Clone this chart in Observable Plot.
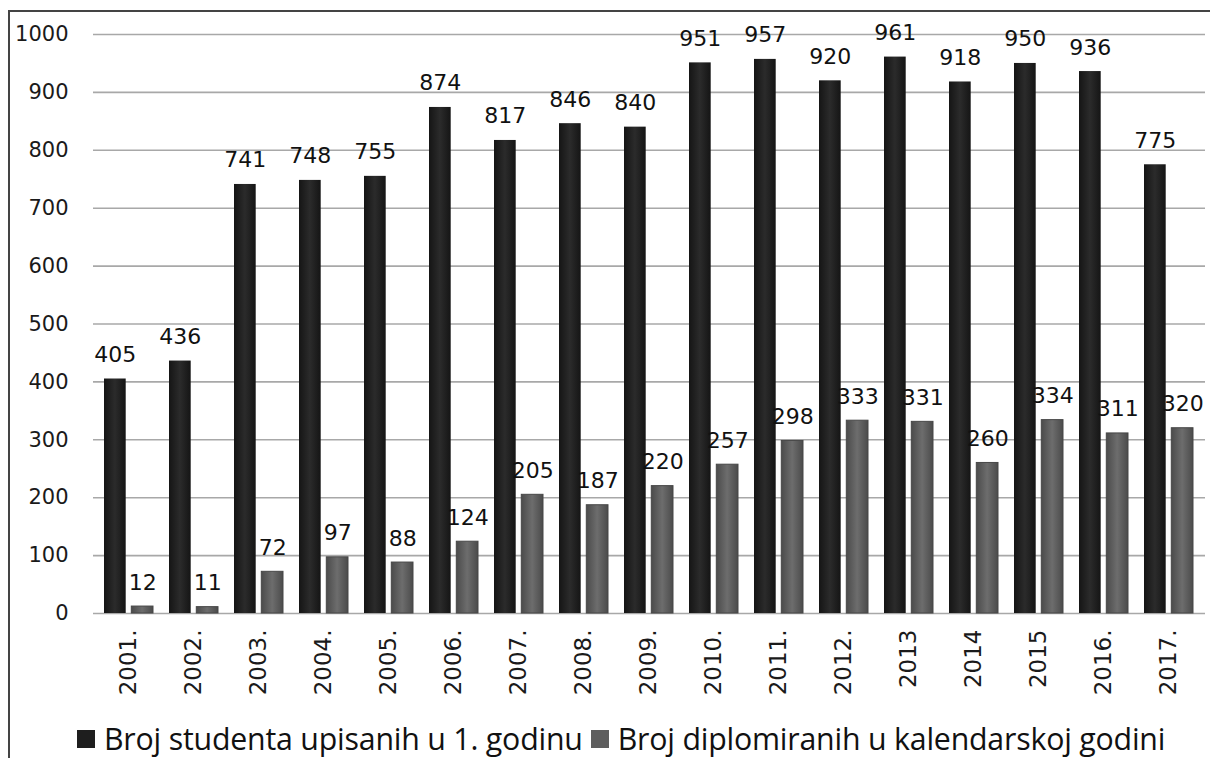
<!DOCTYPE html>
<html><head><meta charset="utf-8">
<script src="https://cdn.jsdelivr.net/npm/d3@7"></script>
<script src="https://cdn.jsdelivr.net/npm/@observablehq/plot@0.6"></script>
<style>
body{margin:0;background:#fff;}
#wrap{position:relative;width:1210px;height:758px;overflow:hidden;background:#fff;}
#frame{position:absolute;left:8px;top:10px;width:1300px;height:800px;border-left:2px solid #444;border-top:2px solid #444;}
#chart{position:absolute;left:0;top:0;}
#legend{position:absolute;left:77px;top:722px;display:flex;align-items:center;font-family:"Open Sans";font-size:30.3px;line-height:33px;color:#111;white-space:nowrap;letter-spacing:-0.2px;}
.item{display:flex;align-items:center;margin-right:8px;}
.sw{width:18px;height:18px;display:inline-block;margin-right:9px}
</style></head>
<body>
<div id="wrap"><div id="frame"></div><div id="chart"></div><div id="legend"></div></div>
<script>
const years = ["2001.","2002.","2003.","2004.","2005.","2006.","2007.","2008.","2009.","2010.","2011.","2012.","2013","2014","2015","2016.","2017."];
const enrolled = [405,436,741,748,755,874,817,846,840,951,957,920,961,918,950,936,775];
const graduated = [12,11,72,97,88,124,205,187,220,257,298,333,331,260,334,311,320];
const seriesNames = ["Broj studenta upisanih u 1. godinu","Broj diplomiranih u kalendarskoj godini"];
const yTicks = [0,100,200,300,400,500,600,700,800,900,1000];

const rowsA = years.map((y,i)=>({year:y, value:enrolled[i], series:seriesNames[0]}));
const rowsB = years.map((y,i)=>({year:y, value:graduated[i], series:seriesNames[1]}));

const chart = Plot.plot({
  width:1210, height:700,
  marginLeft:93, marginRight:5, marginTop:34, marginBottom:87,
  style:{fontFamily:"'DejaVu Sans'", fontSize:"20px", color:"#1a1a1a", background:"transparent"},
  x:{domain:years, paddingInner:0.24, paddingOuter:0.12, label:null},
  y:{domain:[0,1000], label:null},
  marks:[
    Plot.ruleY(yTicks, {stroke:"#a8a8a8", strokeWidth:1.6}),
    Plot.barY(rowsA, {x:"year", y:"value", fill:"url(#gDark)", insetRight:27.3}),
    Plot.barY(rowsB, {x:"year", y:"value", fill:"url(#gGray)", stroke:"#474747", strokeWidth:1, insetLeft:27.3}),
    Plot.text(rowsA, {x:"year", y:"value", text:d=>String(d.value), dx:-13.7, dy:-17, lineAnchor:"bottom", fontSize:22, fill:"#111"}),
    Plot.text(rowsB, {x:"year", y:"value", text:d=>String(d.value), dx:13.7, dy:-17, lineAnchor:"bottom", fontSize:22, fill:"#111"}),
    Plot.axisY({ticks:yTicks, tickFormat:d=>String(d), tickSize:0, tickPadding:25, fontSize:21, label:null}),
    Plot.axisX({tickRotate:-90, tickSize:0, tickPadding:16, fontSize:23, label:null})
  ]
});
chart.insertAdjacentHTML("afterbegin", `<defs>
<linearGradient id="gDark" x1="0" x2="1" y1="0" y2="0">
<stop offset="0" stop-color="#151515"/><stop offset="0.5" stop-color="#2b2b2b"/><stop offset="1" stop-color="#151515"/></linearGradient>
<linearGradient id="gGray" x1="0" x2="1" y1="0" y2="0">
<stop offset="0" stop-color="#4b4b4b"/><stop offset="0.5" stop-color="#6d6d6d"/><stop offset="1" stop-color="#4b4b4b"/></linearGradient>
</defs>`);
document.getElementById("chart").appendChild(chart);

const lg = document.getElementById("legend");
const swColors = ["#1e1e1e","#5e5e5e"];
seriesNames.forEach((n,i)=>{
  const it = document.createElement("span"); it.className="item";
  const sw = document.createElement("span"); sw.className="sw"; sw.style.background=swColors[i];
  it.appendChild(sw); it.appendChild(document.createTextNode(n)); lg.appendChild(it);
});
</script>
</body></html>
